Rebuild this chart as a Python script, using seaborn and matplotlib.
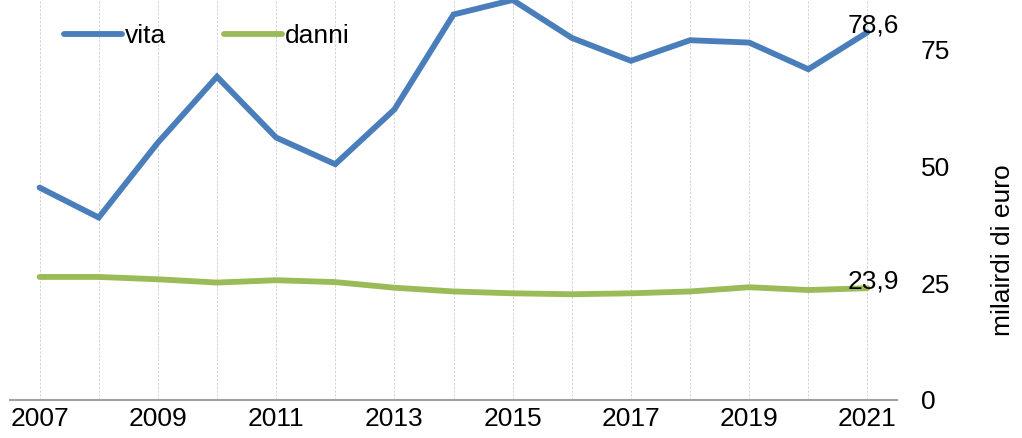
import numpy as np
import pandas as pd
import matplotlib
matplotlib.use('Agg')
import matplotlib.pyplot as plt
import seaborn as sns

# data (miliardi di euro)
years = list(range(2007, 2022))
vita = [45.4, 39.0, 55.0, 69.1, 56.1, 50.4, 62.1, 82.4, 85.5, 77.4, 72.5, 76.9, 76.4, 70.7, 78.6]
danni = [26.3, 26.3, 25.8, 25.1, 25.6, 25.2, 24.0, 23.2, 22.8, 22.6, 22.8, 23.2, 24.1, 23.5, 23.9]
yticks = [0, 25, 50, 75]

df = pd.DataFrame({'anno': years * 2,
                   'valore': vita + danni,
                   'serie': ['vita'] * len(years) + ['danni'] * len(years)})

sns.set_style('white')
plt.rcParams['font.family'] = ['Liberation Sans', 'DejaVu Sans']
plt.rcParams['text.color'] = 'black'
plt.rcParams['axes.labelcolor'] = 'black'
plt.rcParams['xtick.color'] = 'black'
plt.rcParams['ytick.color'] = 'black'

fs = 19
lw = 4.2

fig = plt.figure(figsize=(10.22, 4.38), dpi=100)
ax = fig.add_axes([0.0098, 0.0868, 0.8679, 0.9132])

palette = {'vita': '#4a7ebb', 'danni': '#9bbb59'}
sns.lineplot(data=df, x='anno', y='valore', hue='serie', palette=palette,
             linewidth=lw, ax=ax, clip_on=False)
for ln in ax.get_lines():
    ln.set_solid_capstyle('round')
    ln.set_solid_joinstyle('miter')

ax.set_xlim(2006.5, 2021.5)
ax.set_ylim(0, 85.5)

ax.set_xticks(years)
ax.set_xticklabels([str(y) if y % 2 == 1 else '' for y in years], fontsize=fs)
ax.tick_params(axis='x', length=0, pad=5)
ax.grid(axis='x', color='#d4d4d4', linestyle=(0, (2.5, 1.5)), linewidth=0.7)
ax.grid(axis='y', visible=False)

ax.yaxis.tick_right()
ax.yaxis.set_label_position('right')
ax.set_yticks(yticks)
ax.set_yticklabels([str(t) for t in yticks], fontsize=fs)
ax.tick_params(axis='y', length=0, pad=17)
ax.set_ylabel('milairdi di euro', fontsize=fs)
ax.yaxis.set_label_coords(1.106, 0.375)
ax.set_xlabel('')

for s in ['top', 'left', 'right']:
    ax.spines[s].set_visible(False)
ax.spines['bottom'].set_color('#a0a0a0')
ax.spines['bottom'].set_linewidth(1.5)

# end-of-series labels
ax.annotate('78,6', xy=(years[-1], vita[-1]), xytext=(4, 0), textcoords='offset points',
            ha='center', va='baseline', fontsize=fs)
ax.annotate('23,9', xy=(years[-1], danni[-1]), xytext=(4, 0), textcoords='offset points',
            ha='center', va='baseline', fontsize=fs)

leg = ax.legend(loc='upper left', bbox_to_anchor=(0.04, 0.985), ncol=2, frameon=False,
                fontsize=fs, handlelength=2.2, handletextpad=0.1, columnspacing=2.2,
                borderaxespad=0.3)
for h in leg.get_lines():
    h.set_linewidth(lw)
    h.set_solid_capstyle('round')

fig.savefig('out.png', dpi=100)
